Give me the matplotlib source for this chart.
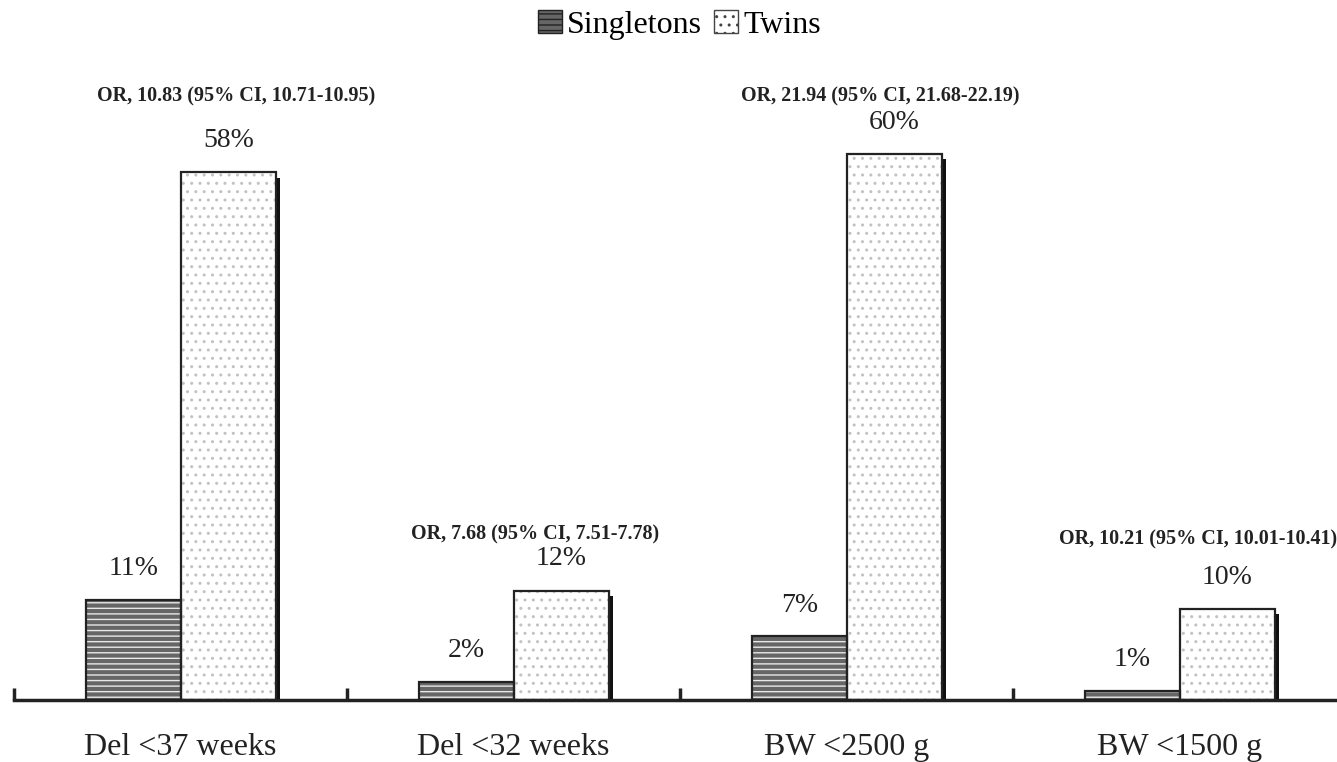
import matplotlib.pyplot as plt
from matplotlib.patches import Patch, Rectangle

categories = ['Del <37 weeks', 'Del <32 weeks', 'BW <2500 g', 'BW <1500 g']
singletons = [11, 2, 7, 1]
twins = [58, 12, 60, 10]
or_labels = ['OR, 10.83 (95% CI, 10.71-10.95)',
             'OR, 7.68 (95% CI, 7.51-7.78)',
             'OR, 21.94 (95% CI, 21.68-22.19)',
             'OR, 10.21 (95% CI, 10.01-10.41)']

# where the OR notes sit (x within group, y in data units)
or_x = [0.667, 0.565, 0.60, 0.555]
or_y = [66.3, 18.2, 66.3, 17.6]

plt.rcParams['font.family'] = ['Liberation Serif', 'DejaVu Serif']
plt.rcParams['hatch.linewidth'] = 1.0

fig = plt.figure(figsize=(13.37, 7.62), dpi=100)
ax = fig.add_axes([14 / 1337, 62 / 762, 1 - 14 / 1337, 1 - 62 / 762])

bw = 0.285
px = 1 / 333  # one pixel in x data units
for i, cat in enumerate(categories):
    xs = i + 0.216
    xt = xs + bw
    # shadow on twins bar
    ax.add_patch(Rectangle((xt + bw - px, 0), 5 * px, twins[i] - 0.6,
                           facecolor='#111111', edgecolor='none', zorder=1))
    # singletons: dark brick-like fill
    ax.bar(xs, singletons[i], bw, align='edge', color='#666666',
           hatch='---', edgecolor='#e8e8e8', linewidth=0, zorder=2)
    ax.bar(xs, singletons[i], bw, align='edge', fill=False,
           edgecolor='#222222', linewidth=1.6, zorder=3)
    # twins: white with sparse dots
    ax.bar(xt, twins[i], bw, align='edge', color='white',
           hatch='..', edgecolor='#c2c2c2', linewidth=0, zorder=2)
    ax.bar(xt, twins[i], bw, align='edge', fill=False,
           edgecolor='#222222', linewidth=1.6, zorder=3)

    ax.text(xs + bw / 2, singletons[i] + 3.4, f'{singletons[i]}%',
            ha='center', va='center', fontsize=20, color='#222222')
    ax.text(xt + bw / 2, twins[i] + 3.5, f'{twins[i]}%',
            ha='center', va='center', fontsize=20, color='#222222')
    ax.text(i + or_x[i], or_y[i], or_labels[i], ha='center', va='center',
            fontsize=14.5, fontweight='bold', color='#222222')

ax.set_xlim(0, 1323 / 333)
ax.set_ylim(0, 700 / 9.1)

for s in ['top', 'right', 'left']:
    ax.spines[s].set_visible(False)
ax.spines['bottom'].set_linewidth(2.5)
ax.spines['bottom'].set_color('#222222')
ax.set_yticks([])

ax.set_xticks([0, 1, 2, 3])
ax.set_xticklabels([])
ax.tick_params(axis='x', which='major', direction='in', length=9, width=2.5,
               color='#222222')
ax.set_xticks([i + 0.5 for i in range(len(categories))], minor=True)
ax.set_xticklabels(categories, minor=True, fontsize=23, color='#222222')
ax.tick_params(axis='x', which='minor', length=0, pad=24)

handles = [Patch(facecolor='#666666', edgecolor='#222222', hatch='---',
                 label='Singletons'),
           Patch(facecolor='white', edgecolor='#444444', hatch='..',
                 label='Twins')]
fig.legend(handles=handles, loc='upper center', bbox_to_anchor=(0.508, 1.025),
           ncol=2, frameon=False, fontsize=23, handlelength=0.75,
           handleheight=0.75, handletextpad=0.15, columnspacing=0.4)

fig.savefig('out.png', dpi=100)
